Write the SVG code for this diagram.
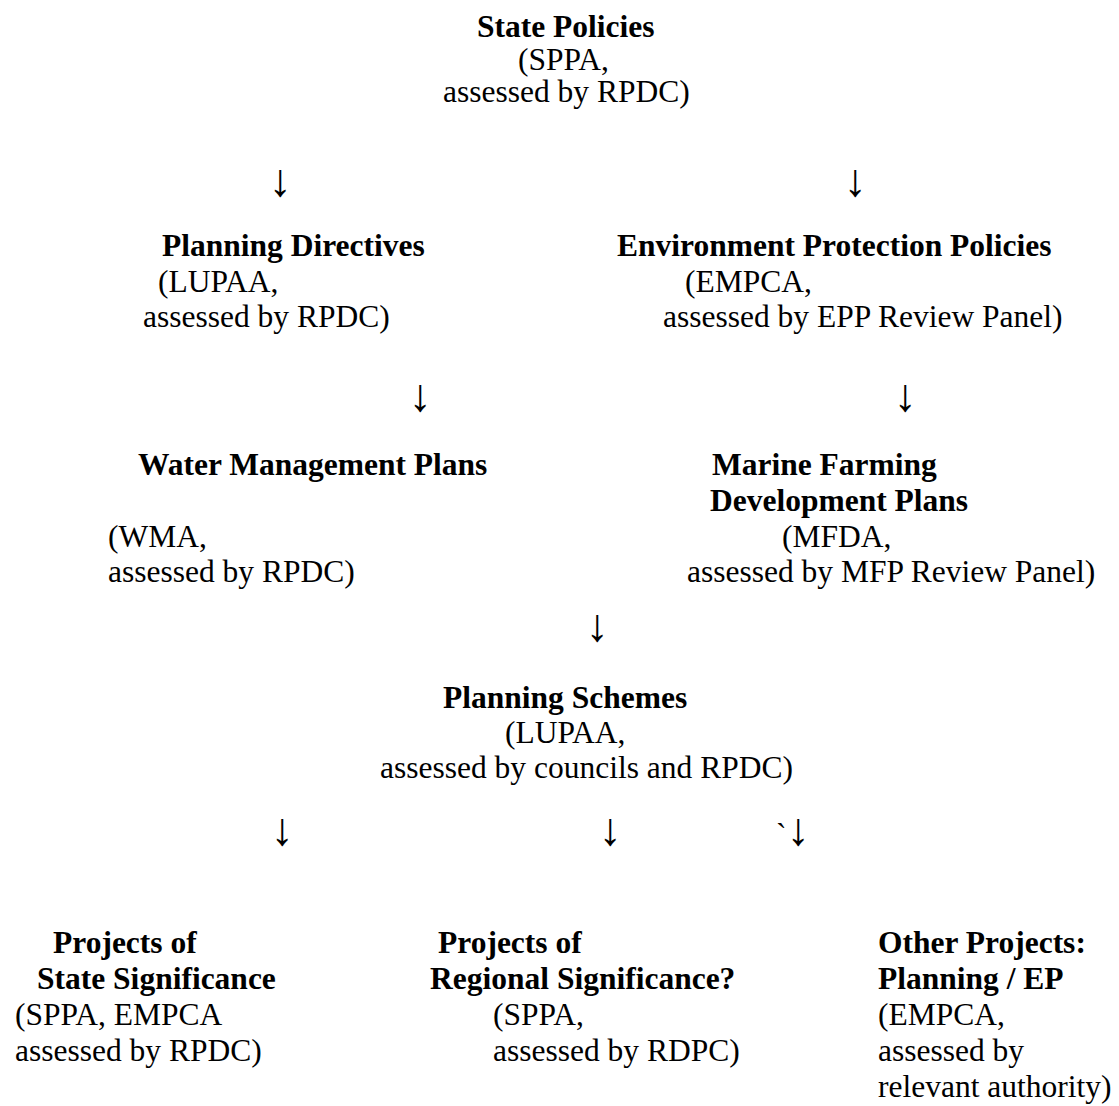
<svg xmlns="http://www.w3.org/2000/svg" width="1119" height="1106" viewBox="0 0 1119 1106">
<style>
text{font-family:"Liberation Serif","Times New Roman",serif;font-size:31.5px;fill:#000}
.b{font-weight:bold}
.ar{font-size:46px}
.c{text-anchor:middle}
</style>
<rect width="1119" height="1106" fill="#fff"/>
<g id="state-policies">
<text class="b" x="477" y="37">State Policies</text>
<text x="518" y="70">(SPPA,</text>
<text x="443" y="102">assessed by RPDC)</text>
</g>
<g id="planning-directives">
<text class="b" x="162" y="256">Planning Directives</text>
<text x="158" y="292">(LUPAA,</text>
<text x="143" y="327">assessed by RPDC)</text>
</g>
<g id="env-protection-policies">
<text class="b" x="617" y="256">Environment Protection Policies</text>
<text x="685" y="292">(EMPCA,</text>
<text x="663" y="327">assessed by EPP Review Panel)</text>
</g>
<g id="water-management-plans">
<text class="b" x="138" y="475">Water Management Plans</text>
<text x="108" y="547">(WMA,</text>
<text x="108" y="582">assessed by RPDC)</text>
</g>
<g id="marine-farming">
<text class="b" x="712" y="475">Marine Farming</text>
<text class="b" x="710" y="511">Development Plans</text>
<text x="782" y="547">(MFDA,</text>
<text x="687" y="582">assessed by MFP Review Panel)</text>
</g>
<g id="planning-schemes">
<text class="b" x="443" y="708">Planning Schemes</text>
<text x="505" y="743">(LUPAA,</text>
<text x="380" y="778">assessed by councils and RPDC)</text>
</g>
<g id="state-significance">
<text class="b" x="53" y="953">Projects of</text>
<text class="b" x="37" y="989">State Significance</text>
<text x="15" y="1025">(SPPA, EMPCA</text>
<text x="15" y="1061">assessed by RPDC)</text>
</g>
<g id="regional-significance">
<text class="b" x="438" y="953">Projects of</text>
<text class="b" x="430" y="989">Regional Significance?</text>
<text x="493" y="1025">(SPPA,</text>
<text x="493" y="1061">assessed by RDPC)</text>
</g>
<g id="other-projects">
<text class="b" x="878" y="953">Other Projects:</text>
<text class="b" x="878" y="989">Planning / EP</text>
<text x="878" y="1025">(EMPCA,</text>
<text x="878" y="1061">assessed by</text>
<text x="878" y="1097">relevant authority)</text>
</g>
<g id="connectors">
<text class="ar c" x="280" y="196">↓</text>
<text class="ar c" x="855" y="196">↓</text>
<text class="ar c" x="420" y="411">↓</text>
<text class="ar c" x="905" y="411">↓</text>
<text class="ar c" x="597" y="641">↓</text>
<text class="ar c" x="282" y="845">↓</text>
<text class="ar c" x="610" y="845">↓</text>
<text class="ar" x="776" y="845"><tspan font-size="31.5">`</tspan>↓</text>
</g>
</svg>
